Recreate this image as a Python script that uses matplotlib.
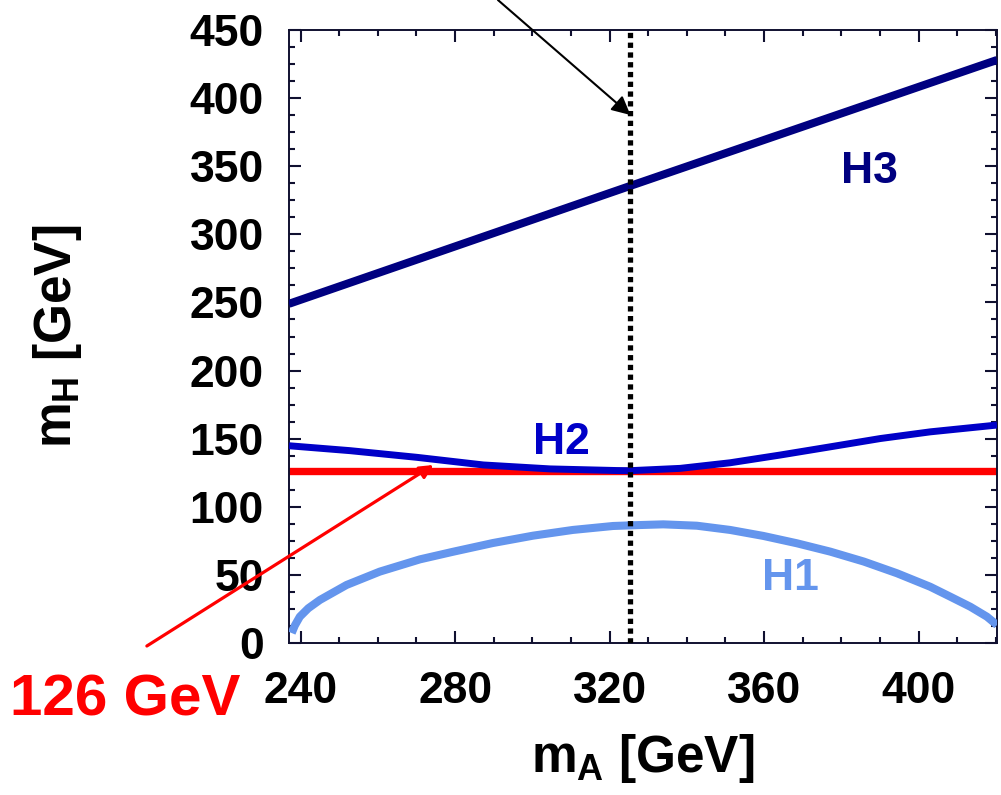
import numpy as np
import matplotlib
matplotlib.use('Agg')
import matplotlib.pyplot as plt
from matplotlib.ticker import MultipleLocator

plt.rcParams['font.family'] = ['Liberation Sans', 'DejaVu Sans']
plt.rcParams['font.weight'] = 'bold'
plt.rcParams['mathtext.fontset'] = 'custom'
plt.rcParams['mathtext.rm'] = 'Liberation Sans:bold'
plt.rcParams['mathtext.it'] = 'Liberation Sans:bold'
plt.rcParams['mathtext.bf'] = 'Liberation Sans:bold'

# H1 (lightest state)
h1_mA = [237.7, 238.5, 239.8, 242.0, 245.0, 251.9, 260.5, 270.9, 279.5, 289.8, 300.2, 310.5,
         320.9, 327.9, 333.9, 342.6, 351.2, 359.8, 368.5, 377.1, 385.8, 394.4,
         403.0, 408.2, 413.4, 417.7, 420.3]
h1_mH = [7.3, 12.8, 19.3, 25.5, 31.6, 42.6, 52.4, 61.4, 67.0, 73.4, 78.8, 83.0,
         85.9, 86.6, 87.1, 86.1, 83.0, 78.6, 73.2, 67.1, 59.8, 51.2,
         41.3, 34.0, 26.6, 19.3, 13.2]

# H2
h2_mA = [237.0, 252.8, 270.1, 287.3, 304.6, 321.9, 325.3, 338.3, 351.2, 364.2,
         377.1, 390.1, 403.0, 420.3]
h2_mH = [144.8, 141.2, 136.3, 130.7, 127.8, 126.6, 126.5, 128.2, 132.3, 138.0,
         144.0, 150.1, 155.0, 160.0]

# H3
h3_mA = [237.0, 325.3, 420.3]
h3_mH = [249.0, 335.5, 428.0]

m_ref = 126.0        # 126 GeV line
mA_mark = 325.3      # dotted vertical line

x_ticks = [240, 280, 320, 360, 400]
y_ticks = [0, 50, 100, 150, 200, 250, 300, 350, 400, 450]

fig = plt.figure(figsize=(10.01, 7.95), dpi=100)
ax = fig.add_axes([289 / 1001, 1 - 643 / 795, 708 / 1001, 613 / 795])

ax.axhline(m_ref, color='#ff0000', lw=5.3, zorder=2)
ax.plot(h3_mA, h3_mH, color='#000080', lw=5.8, solid_capstyle='butt', zorder=3)
ax.plot(h2_mA, h2_mH, color='#0000c8', lw=5.0, solid_capstyle='butt',
        solid_joinstyle='round', zorder=3)
ax.plot(h1_mA, h1_mH, color='#6495ed', lw=5.8, solid_capstyle='butt',
        solid_joinstyle='round', zorder=3)
ax.axvline(mA_mark, color='black', lw=3.8, linestyle=(0, (1.0, 0.85)), zorder=4)

ax.text(387.3, 337.7, 'H3', color='#000080', fontsize=32, ha='center', va='baseline')
ax.text(307.4, 138.7, 'H2', color='#0000c8', fontsize=32, ha='center', va='baseline')
ax.text(366.8, 38.9, 'H1', color='#6495ed', fontsize=32, ha='center', va='baseline')

ax.annotate('', xy=(325.4, 387.6), xytext=(291.1, 472),
            arrowprops=dict(arrowstyle='-|>', color='black', lw=1.5,
                            mutation_scale=28, shrinkA=0, shrinkB=0),
            annotation_clip=False)
ax.annotate('', xy=(274.4, 130.7), xytext=(200.2, -2.2),
            arrowprops=dict(arrowstyle='-|>', color='#ff0000', lw=2.3,
                            mutation_scale=20, shrinkA=0, shrinkB=0),
            annotation_clip=False)
fig.text(125 / 1001, 1 - 715 / 795, '126 GeV', color='#ff0000', fontsize=42,
         fontweight='bold', ha='center', va='baseline')

ax.set_xlim(237.0, 420.3)
ax.set_ylim(0, 450)
ax.set_xticks(x_ticks)
ax.set_yticks(y_ticks)
ax.xaxis.set_minor_locator(MultipleLocator(10))
ax.yaxis.set_minor_locator(MultipleLocator(12.5))
ax.tick_params(which='both', direction='in', top=True, right=True,
               width=1.5, color='#101030')
ax.tick_params(which='major', length=8.5)
ax.tick_params(which='minor', length=4.5)
ax.tick_params(axis='x', which='major', labelsize=32, pad=20)
ax.tick_params(axis='y', which='major', labelsize=32, pad=18)
for s in ax.spines.values():
    s.set_linewidth(1.4)
    s.set_color('#101030')

ax.set_xlabel(r'$m_A$ [GeV]', fontsize=37, fontweight='bold')
ax.set_ylabel(r'$m_H$ [GeV]', fontsize=37, fontweight='bold')
ax.xaxis.set_label_coords(0.5, -0.145)
ax.yaxis.set_label_coords(-0.29, 0.5)

fig.savefig('out.png', dpi=100)
